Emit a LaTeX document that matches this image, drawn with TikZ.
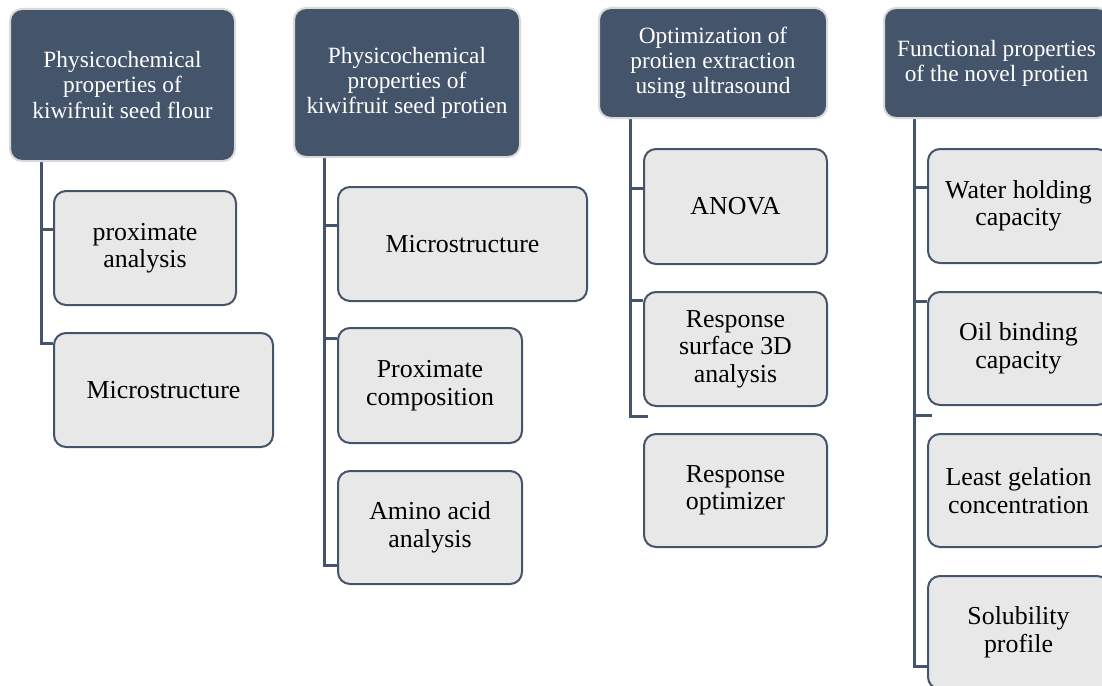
\documentclass[tikz,border=0pt]{standalone}
\usepackage{fontspec}
\setmainfont{Liberation Serif}
\usetikzlibrary{calc,backgrounds}

\definecolor{hdfill}{RGB}{68,84,106}
\definecolor{hdline}{RGB}{217,217,217}
\definecolor{subfill}{RGB}{232,232,232}

\tikzset{every picture/.style={line width=0.75pt}}
\tikzset{
  head/.style={draw=hdline, line width=1.5pt, fill=hdfill, rounded corners=9pt, text=white,
    align=center, anchor=north west, inner sep=0pt, font=\fontsize{17.5}{18.8}\selectfont},
  sub/.style={draw=hdfill, line width=1.5pt, fill=subfill, rounded corners=9pt,
    align=center, anchor=north west, inner sep=0pt, font=\fontsize{19.4}{20.6}\selectfont},
  conn/.style={draw=hdfill, line width=2.25pt},
  sz/.style 2 args={minimum width=#1*0.75pt, minimum height=#2*0.75pt}
}

\begin{document}
\begin{tikzpicture}[x=0.75pt,y=0.75pt,yscale=-1,xscale=1]
\useasboundingbox (0,0) rectangle (1102,685);

% Header nodes
\node[head, sz={225}{152}] (h1) at (9,8) {Physicochemical\\properties of\\kiwifruit seed flour};
\node[head, sz={226}{149}] (h2) at (293,7) {Physicochemical\\properties of\\kiwifruit seed protien};
\node[head, sz={228}{110}] (h3) at (598,7) {Optimization of\\protien extraction\\using ultrasound};
\node[head, sz={225}{110}] (h4) at (883,7) {Functional properties\\of the novel protien};

% Column 1
\node[sub, sz={182}{114}] (c11) at (53,190) {proximate\\analysis};
\node[sub, sz={219}{114}] (c12) at (53,332) {Microstructure};

% Column 2
\node[sub, sz={249}{114}] (c21) at (337,186) {Microstructure};
\node[sub, sz={184}{115}] (c22) at (337,327) {Proximate\\composition};
\node[sub, sz={184}{113}] (c23) at (337,470) {Amino acid\\analysis};

% Column 3
\node[sub, sz={183}{115}] (c31) at (643,148) {ANOVA};
\node[sub, sz={183}{114}] (c32) at (643,291) {Response\\surface 3D\\analysis};
\node[sub, sz={183}{113}] (c33) at (643,433) {Response\\optimizer};

% Column 4
\node[sub, sz={181}{114}] (c41) at (927,148) {Water holding\\capacity};
\node[sub, sz={181}{113}] (c42) at (927,291) {Oil binding\\capacity};
\node[sub, sz={181}{113}] (c43) at (927,433) {Least gelation\\concentration};
\node[sub, sz={181}{113}] (c44) at (927,575) {Solubility\\profile};

% Trunks and branches
\coordinate (t1) at (41,0);
\coordinate (t2) at (324,0);
\coordinate (t3) at (630,0);
\coordinate (t4) at (914,0);
\coordinate (j11) at ($(c11.north west)+(0,39)$);
\coordinate (j12) at ($(c12.north west)+(0,11)$);
\coordinate (j21) at ($(c21.north west)+(0,39)$);
\coordinate (j22) at ($(c22.north west)+(0,11)$);
\coordinate (j23) at ($(c23.north west)+(0,95)$);
\coordinate (j31) at ($(c31.north west)+(0,40)$);
\coordinate (j32) at ($(c32.north west)+(0,9)$);
\coordinate (j33) at ($(c32.south west)+(5,9)$);
\coordinate (j41) at ($(c41.north west)+(0,39)$);
\coordinate (j42) at ($(c42.north west)+(0,10)$);
\coordinate (j43) at ($(c42.south west)+(5,9)$);
\coordinate (j44) at ($(c44.north west)+(0,91)$);

\begin{scope}[on background layer]
\draw[conn] (h1.south -| t1) |- (j12);
\draw[conn] (j11 -| t1) -- (j11);
\draw[conn] (h2.south -| t2) |- (j23);
\draw[conn] (j21 -| t2) -- (j21);
\draw[conn] (j22 -| t2) -- (j22);
\draw[conn] (h3.south -| t3) |- (j33);
\draw[conn] (j31 -| t3) -- (j31);
\draw[conn] (j32 -| t3) -- (j32);
\draw[conn] (h4.south -| t4) |- (j44);
\draw[conn] (j41 -| t4) -- (j41);
\draw[conn] (j42 -| t4) -- (j42);
\draw[conn] (j43 -| t4) -- (j43);
\end{scope}

\end{tikzpicture}
\end{document}
